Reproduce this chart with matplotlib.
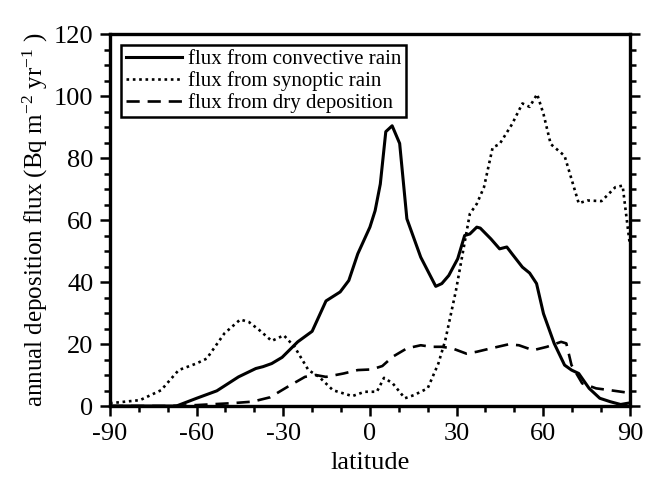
import numpy as np
import matplotlib
matplotlib.use("Agg")
import matplotlib.pyplot as plt
from matplotlib.ticker import MultipleLocator

conv_lat = [-90, -67, -60, -53, -45.5, -39.5, -37, -34, -30.4, -25, -20, -15.2,
            -10.3, -7.3, -4.2, 0, 1.8, 3.6, 5.5, 7.7, 10.3, 12.8, 17.6, 22.8,
            24.9, 27.3, 30.4, 32.8, 34.6, 37, 38.2, 41.9, 44.9, 47.4, 49.2,
            52.8, 55.3, 57.7, 60.1, 63.8, 67.4, 69.8, 72.3, 75.9, 79.6, 83.2,
            86.8, 89.3, 90]
conv_val = [0, 0, 2.5, 4.9, 9.4, 12.1, 12.7, 13.7, 15.7, 20.7, 24.1, 33.9,
            36.8, 40.5, 49.1, 57.7, 63, 71.6, 88.5, 90.4, 84.7, 60.4, 48, 38.6,
            39.5, 42.1, 47.5, 55, 55.5, 57.7, 57.4, 53.9, 50.7, 51.3, 49.1,
            44.8, 42.9, 39.5, 29.8, 20.2, 13.2, 11.6, 10.5, 5.7, 2.5, 1.4,
            0.5, 0.9, 1.0]

syn_lat = [-90, -79.6, -72.3, -66.2, -60.1, -56.5, -50.4, -44.9, -41.9, -38.3,
           -34, -29.8, -26.1, -21.3, -17.6, -12.8, -6.1, -1.8, 2.4, 4.9, 7.9,
           12.1, 15.2, 20, 23.7, 26.1, 29.8, 34.6, 37, 39.5, 42.5, 44.9, 49.2,
           52.8, 55.3, 57.9, 60.1, 62.6, 67.4, 72.3, 75.3, 80.2, 85, 87.5, 90]
syn_val = [0.9, 1.9, 5.1, 11.6, 13.7, 15.3, 23.4, 27.9, 27.1, 24.5,
           21, 22.8, 19.1, 11.6, 9.4, 5.1, 3.2, 4.6, 4.6, 9.1, 7.3,
           2.5, 3.5, 5.7, 13.7, 21.2, 37.3, 62, 65.2, 70.6, 83.4, 84.5, 90.9,
           97.6, 96.5, 100.6, 94.2, 84.5, 80.7, 65.4, 66.3, 66.1, 70.6, 71.1, 52]

dry_lat = [-90, -70, -60, -48, -40.7, -34.6, -28.5, -22.5, -18.8, -15.2, -9.1,
           -4.2, 0.6, 4.3, 7.9, 12.8, 17.6, 21.3, 24.9, 28.5, 33.4, 37, 41.9,
           48, 51.6, 56.5, 61.3, 66.2, 68, 69.8, 73.5, 78.3, 83.2, 89.3, 90]
dry_val = [0, 0, 0.3, 0.9, 1.4, 2.8, 6.2, 9.4, 10, 9.4, 10.5,
           11.6, 11.8, 12.9, 15.9, 18.6, 19.6, 19.1, 19.1, 18.6, 16.9, 17.5, 18.6,
           19.9, 19.6, 18, 19.1, 20.7, 20.2, 13.2, 7.3, 5.7, 5.1, 4.3, 4.3]

labels = ["flux from convective rain", "flux from synoptic rain",
          "flux from dry deposition"]

plt.rcParams["font.family"] = ["Liberation Serif", "DejaVu Serif"]
plt.rcParams["mathtext.fontset"] = "custom"
plt.rcParams["mathtext.rm"] = "Liberation Serif"
plt.rcParams["mathtext.it"] = "Liberation Serif"
plt.rcParams["axes.unicode_minus"] = False

fig = plt.figure(figsize=(6.45, 4.98), dpi=100)
ax = fig.add_axes([0.1705, 0.1847, 0.806, 0.747])

ax.plot(conv_lat, conv_val, color="black", lw=2.2, ls="-", label=labels[0])
ax.plot(syn_lat, syn_val, color="black", lw=1.9, ls=(0, (1, 1.4)), label=labels[1])
ax.plot(dry_lat, dry_val, color="black", lw=1.9, ls=(0, (5, 3)), label=labels[2])

ax.set_xlim(-90, 90)
ax.set_ylim(0, 120)
ax.xaxis.set_major_locator(MultipleLocator(30))
ax.xaxis.set_minor_locator(MultipleLocator(10))
ax.yaxis.set_major_locator(MultipleLocator(20))
ax.yaxis.set_minor_locator(MultipleLocator(5))
ax.tick_params(which="both", direction="out", left=True, right=True,
               top=False, bottom=True, labelsize=19, width=1.8, pad=5)
ax.tick_params(which="major", length=7)
ax.tick_params(which="minor", length=4)
for s in ax.spines.values():
    s.set_linewidth(2.4)

ax.set_xlabel("latitude", fontsize=19, labelpad=5)
ax.set_ylabel(r"annual deposition flux (Bq m$^{-2}$ yr$^{-1}$ )", fontsize=18,
              labelpad=3)

leg = ax.legend(loc="upper left", bbox_to_anchor=(0.022, 0.97), fontsize=15,
                handlelength=2.7, handletextpad=0.3, labelspacing=0.1,
                borderpad=0.2, borderaxespad=0, fancybox=False, framealpha=1)
leg.get_frame().set_edgecolor("black")
leg.get_frame().set_linewidth(1.8)

fig.savefig("out.png", dpi=100)
